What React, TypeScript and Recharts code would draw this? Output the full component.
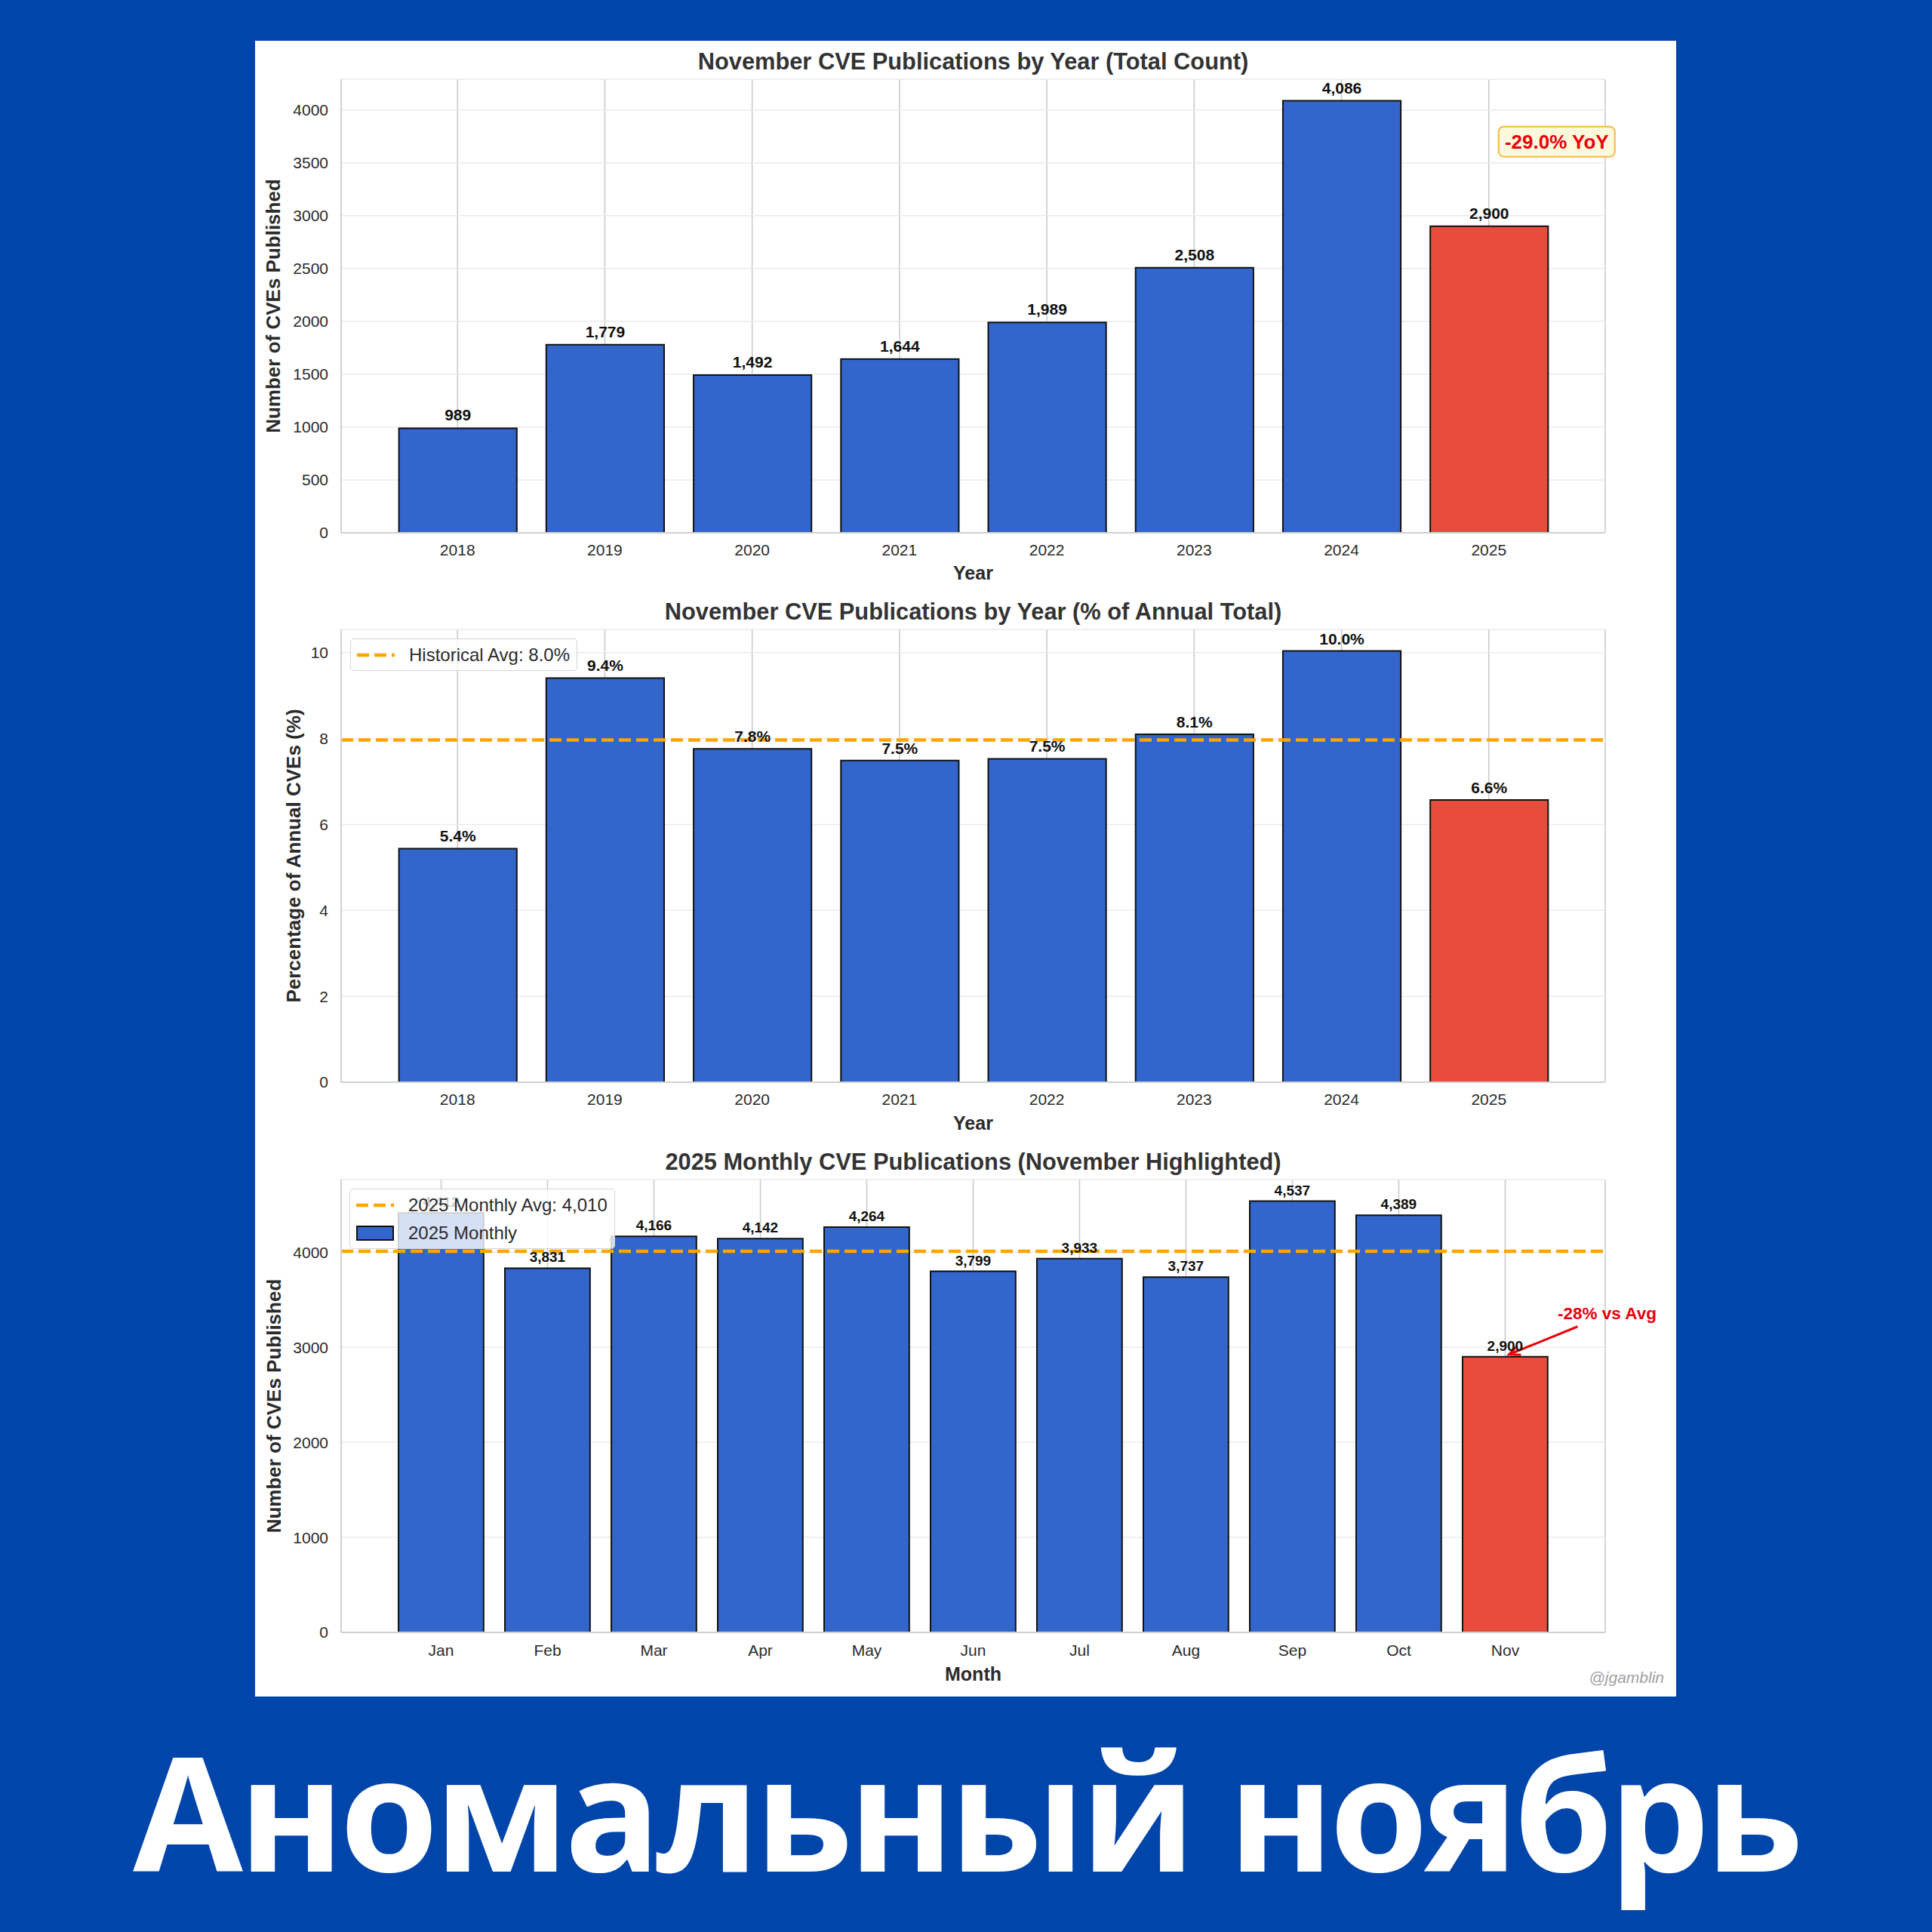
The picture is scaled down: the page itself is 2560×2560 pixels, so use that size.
import React from 'react';
import {
  BarChart,
  Bar,
  XAxis,
  YAxis,
  CartesianGrid,
  Cell,
  LabelList,
  ReferenceLine,
  ReferenceDot,
  Legend,
} from 'recharts';

// ---------- data ----------
const YEARS = ['2018', '2019', '2020', '2021', '2022', '2023', '2024', '2025'];
const NOV_COUNTS = [989, 1779, 1492, 1644, 1989, 2508, 4086, 2900];
const NOV_PCT = [5.44, 9.41, 7.76, 7.49, 7.53, 8.1, 10.04, 6.57];
const HIST_AVG_PCT = 7.97;
const MONTHS = ['Jan', 'Feb', 'Mar', 'Apr', 'May', 'Jun', 'Jul', 'Aug', 'Sep', 'Oct', 'Nov'];
const MONTHLY_2025 = [4412, 3831, 4166, 4142, 4264, 3799, 3933, 3737, 4537, 4389, 2900];
const MONTHLY_AVG = 4010;
const COUNT_TICKS = [0, 500, 1000, 1500, 2000, 2500, 3000, 3500, 4000];
const PCT_TICKS = [0, 2, 4, 6, 8, 10];
const MONTH_TICKS = [0, 1000, 2000, 3000, 4000];
const YOY_TEXT = '-29.0% YoY';
const VS_AVG_TEXT = '-28% vs Avg';
const HIST_LEGEND = 'Historical Avg: 8.0%';
const MONTH_AVG_LEGEND = '2025 Monthly Avg: 4,010';
const MONTH_BAR_LEGEND = '2025 Monthly';

// ---------- style ----------
const BG = '#0045AA';
const BLUE = '#3366CC';
const RED = '#E74C3C';
const ORANGE = '#FFA500';
const FRAME = '#d0d0d0';
const ANNOT_RED = '#E8000B';
const FONT = '"Liberation Sans", Arial, sans-serif';
const DASH = '16 7';

const PANEL_LEFT = 338;
const PANEL_TOP = 54;
const PANEL_W = 1883;
const PANEL_H = 2194;
const Y_AXIS_W = 114;
const RIGHT_M = 94;
const PLOT_W = PANEL_W - Y_AXIS_W - RIGHT_M;

// matplotlib-like category layout: bar width 0.8, 5% margins
function catLayout(n: number) {
  const span = (n - 1 + 0.8) * 1.1;
  const unit = PLOT_W / span;
  return { pad: (PLOT_W - n * unit) / 2, bar: 0.8 * unit };
}

const fmtThousands = (v: number) => v.toLocaleString('en-US');
const fmtPct = (v: number) => `${v.toFixed(1)}%`;

const mkRows = (keys: string[], vals: number[]) => keys.map((k, i) => ({ k, v: vals[i] }));

const yLabel = (text: string, dx: number) => (p: any) => {
  const vb = p.viewBox || {};
  const cx = (vb.x || 0) + dx;
  const cy = (vb.y || 0) + (vb.height || 0) / 2;
  return (
    <text
      x={cx}
      y={cy}
      transform={`rotate(-90 ${cx} ${cy})`}
      textAnchor="middle"
      dominantBaseline="central"
      fontSize={26}
      fontWeight="bold"
      fill="#2b2b2b"
      fontFamily={FONT}
    >
      {text}
    </text>
  );
};

const xLabel = (text: string, dy: number) => (p: any) => {
  const vb = p.viewBox || {};
  return (
    <text
      x={(vb.x || 0) + (vb.width || 0) / 2}
      y={(vb.y || 0) + dy}
      textAnchor="middle"
      fontSize={25}
      fontWeight="bold"
      fill="#2b2b2b"
      fontFamily={FONT}
    >
      {text}
    </text>
  );
};

const YoyBox = (p: any) => {
  const x = p.cx + 90;
  const y = p.cy;
  return (
    <g>
      <rect x={x - 77} y={y - 20} width={154} height={40} rx={7} fill="#FFF9DB" stroke="#F4B942" strokeWidth={2} />
      <text x={x} y={y} textAnchor="middle" dominantBaseline="central" fill={ANNOT_RED} fontSize={26} fontWeight="bold" fontFamily={FONT}>
        {YOY_TEXT}
      </text>
    </g>
  );
};

const VsAvgArrow = (p: any) => {
  const { cx, cy } = p;
  const sx = cx + 96;
  const sy = cy - 40;
  const tx = cx + 5;
  const ty = cy - 3;
  const ang = Math.atan2(ty - sy, tx - sx);
  const L = 16;
  const w = 0.42;
  const h1 = `${tx - L * Math.cos(ang - w)},${ty - L * Math.sin(ang - w)}`;
  const h2 = `${tx - L * Math.cos(ang + w)},${ty - L * Math.sin(ang + w)}`;
  return (
    <g>
      <line x1={sx} y1={sy} x2={tx} y2={ty} stroke={ANNOT_RED} strokeWidth={3} />
      <polyline points={`${h1} ${tx},${ty} ${h2}`} fill="none" stroke={ANNOT_RED} strokeWidth={3} />
      <text x={cx + 135} y={cy - 57} textAnchor="middle" dominantBaseline="central" fill={ANNOT_RED} fontSize={22.5} fontWeight="bold" fontFamily={FONT}>
        {VS_AVG_TEXT}
      </text>
    </g>
  );
};

const DashSample = () => (
  <svg width={50} height={20} style={{ display: 'block' }}>
    <line x1={0} y1={10} x2={50} y2={10} stroke={ORANGE} strokeWidth={4.5} strokeDasharray={DASH} />
  </svg>
);
const BarSample = () => (
  <svg width={50} height={20} style={{ display: 'block' }}>
    <rect x={1} y={1} width={48} height={18} fill={BLUE} stroke="#111" strokeWidth={2} />
  </svg>
);

const LegendBox = ({ rows }: { rows: { sample: React.ReactNode; text: string }[] }) => (
  <div
    style={{
      background: 'rgba(255,255,255,0.8)',
      border: '1.5px solid #d4d4d4',
      borderRadius: 5,
      padding: '2px 9px 2px 8px',
      fontFamily: FONT,
      fontSize: 24,
      color: '#2b2b2b',
      whiteSpace: 'nowrap',
    }}
  >
    {rows.map((r, i) => (
      <div key={i} style={{ display: 'flex', alignItems: 'center', height: 37 }}>
        {r.sample}
        <span style={{ marginLeft: 19 }}>{r.text}</span>
      </div>
    ))}
  </div>
);

type PanelProps = {
  top: number;
  height: number;
  marginTop: number;
  axisH: number;
  rows: { k: string; v: number }[];
  ticks: number[];
  labelFmt: (v: number) => string;
  labelSize: number;
  labelOffset: number;
  yText: string;
  yDx: number;
  xText: string;
  xDy: number;
  tickGap: number;
  children?: React.ReactNode;
};

function Panel(props: PanelProps) {
  const { top, height, marginTop, axisH, rows, ticks, labelFmt, labelSize, labelOffset, yText, yDx, xText, xDy, tickGap, children } = props;
  const { pad, bar } = catLayout(rows.length);
  return (
    <div style={{ position: 'absolute', left: PANEL_LEFT, top, width: PANEL_W, height }}>
      <BarChart
        width={PANEL_W}
        height={height}
        data={rows}
        margin={{ top: marginTop, right: RIGHT_M, bottom: 0, left: 0 }}
        style={{ fontFamily: FONT }}
      >
        <CartesianGrid horizontal={false} stroke="#c8c8c8" strokeWidth={1.5} />
        <CartesianGrid vertical={false} stroke="#ebebeb" strokeWidth={1.5} />
        <XAxis
          dataKey="k"
          interval={0}
          height={axisH}
          padding={{ left: pad, right: pad }}
          tickSize={0}
          tickLine={false}
          tickMargin={tickGap}
          axisLine={{ stroke: FRAME, strokeWidth: 2 }}
          tick={{ fontSize: 21, fill: '#2b2b2b' }}
          label={xLabel(xText, xDy)}
        />
        <XAxis
          xAxisId="top"
          dataKey="k"
          orientation="top"
          height={0}
          tick={false}
          tickLine={false}
          axisLine={{ stroke: FRAME, strokeWidth: 2 }}
        />
        <YAxis
          type="number"
          width={Y_AXIS_W}
          domain={[0, (m: number) => m * 1.05]}
          ticks={ticks}
          tickSize={0}
          tickLine={false}
          tickMargin={17}
          axisLine={{ stroke: FRAME, strokeWidth: 2 }}
          tick={{ fontSize: 21, fill: '#2b2b2b' }}
          label={yLabel(yText, yDx)}
        />
        <YAxis
          yAxisId="right"
          orientation="right"
          type="number"
          domain={[0, 1]}
          width={0}
          tick={false}
          tickLine={false}
          axisLine={{ stroke: FRAME, strokeWidth: 2 }}
        />
        <Bar dataKey="v" barSize={bar} stroke="#111" strokeWidth={2} isAnimationActive={false}>
          {rows.map((r, i) => (
            <Cell key={r.k} fill={i === rows.length - 1 ? RED : BLUE} />
          ))}
          <LabelList
            dataKey="v"
            position="top"
            offset={labelOffset}
            formatter={(v: any) => labelFmt(Number(v))}
            fill="#111"
            fontSize={labelSize}
            fontWeight="bold"
          />
        </Bar>
        {children}
      </BarChart>
    </div>
  );
}

const Title = ({ text, cy }: { text: string; cy: number }) => (
  <div
    style={{
      position: 'absolute',
      left: PANEL_LEFT + Y_AXIS_W,
      width: PLOT_W,
      top: cy - 18,
      height: 36,
      lineHeight: '36px',
      textAlign: 'center',
      fontFamily: FONT,
      fontWeight: 'bold',
      fontSize: 30.8,
      color: '#333',
      whiteSpace: 'nowrap',
    }}
  >
    {text}
  </div>
);

export default function App() {
  const countRows = mkRows(YEARS, NOV_COUNTS);
  const pctRows = mkRows(YEARS, NOV_PCT);
  const monthRows = mkRows(MONTHS, MONTHLY_2025);
  return (
    <div style={{ position: 'absolute', left: 0, top: 0, width: 2560, height: 2560, background: BG, overflow: 'hidden', fontFamily: FONT }}>
      <div style={{ position: 'absolute', left: PANEL_LEFT, top: PANEL_TOP, width: PANEL_W, height: PANEL_H, background: '#fff' }} />

      <Title text="November CVE Publications by Year (Total Count)" cy={82} />
      <Panel
        top={54}
        height={730}
        marginTop={51}
        axisH={78}
        rows={countRows}
        ticks={COUNT_TICKS}
        labelFmt={fmtThousands}
        labelSize={21}
        labelOffset={10}
        yText="Number of CVEs Published"
        yDx={24}
        xText="Year"
        xDy={62}
        tickGap={15}
      >
        <ReferenceDot x="2025" y={3700} r={0} shape={YoyBox} ifOverflow="visible" />
      </Panel>

      <Title text="November CVE Publications by Year (% of Annual Total)" cy={811} />
      <Panel
        top={784}
        height={730}
        marginTop={50}
        axisH={80}
        rows={pctRows}
        ticks={PCT_TICKS}
        labelFmt={fmtPct}
        labelSize={21}
        labelOffset={9}
        yText="Percentage of Annual CVEs (%)"
        yDx={51}
        xText="Year"
        xDy={63}
        tickGap={15}
      >
        <ReferenceLine y={HIST_AVG_PCT} stroke={ORANGE} strokeWidth={4.5} strokeDasharray={DASH} />
        <Legend
          layout="vertical"
          align="center"
          verticalAlign="middle"
          wrapperStyle={{ left: 126, top: 62, width: 'auto', height: 'auto' }}
          content={() => <LegendBox rows={[{ sample: <DashSample />, text: HIST_LEGEND }]} />}
        />
      </Panel>

      <Title text="2025 Monthly CVE Publications (November Highlighted)" cy={1540} />
      <Panel
        top={1514}
        height={734}
        marginTop={49}
        axisH={85}
        rows={monthRows}
        ticks={MONTH_TICKS}
        labelFmt={fmtThousands}
        labelSize={19}
        labelOffset={8}
        yText="Number of CVEs Published"
        yDx={25}
        xText="Month"
        xDy={64}
        tickGap={16}
      >
        <ReferenceLine y={MONTHLY_AVG} stroke={ORANGE} strokeWidth={4.5} strokeDasharray={DASH} />
        <ReferenceDot x="Nov" y={2900} r={0} shape={VsAvgArrow} ifOverflow="visible" />
        <Legend
          layout="vertical"
          align="center"
          verticalAlign="middle"
          wrapperStyle={{ left: 125, top: 61, width: 'auto', height: 'auto' }}
          content={() => (
            <LegendBox
              rows={[
                { sample: <DashSample />, text: MONTH_AVG_LEGEND },
                { sample: <BarSample />, text: MONTH_BAR_LEGEND },
              ]}
            />
          )}
        />
      </Panel>

      <div
        style={{
          position: 'absolute',
          left: 1900,
          width: 305,
          top: 2210,
          height: 26,
          lineHeight: '26px',
          textAlign: 'right',
          fontFamily: FONT,
          fontStyle: 'italic',
          fontSize: 21,
          color: '#a0a0a0',
        }}
      >
        @jgamblin
      </div>

      <div
        style={{
          position: 'absolute',
          left: 0,
          width: 2560,
          top: 2293,
          height: 211,
          lineHeight: '211px',
          textAlign: 'center',
          fontFamily: '"Open Sans", "Noto Sans", sans-serif',
          fontWeight: 700,
          fontSize: 211,
          letterSpacing: -5.6,
          color: '#fff',
          whiteSpace: 'nowrap',
        }}
      >
        Аномальный ноябрь
      </div>
    </div>
  );
}
